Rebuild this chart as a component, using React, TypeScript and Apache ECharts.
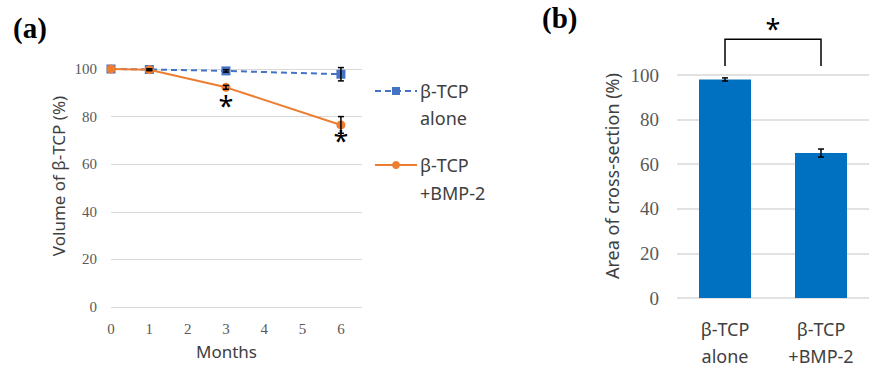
import React, { useEffect, useRef } from "react";
import * as echarts from "echarts";

const months = [0, 1, 3, 6];
const aloneVol = [100, 99.8, 99.2, 97.8];
const aloneErr = [0, 0.3, 0.5, 2.8];
const bmpVol = [100, 99.7, 92.3, 76.5];
const bmpErr = [0, 0.4, 0.8, 3.5];
const starPoints = [
  [3, 84.5],
  [6, 69.8],
];
const xTicks = [0, 1, 2, 3, 4, 5, 6];

const groups = ["β-TCP\nalone", "β-TCP\n+BMP-2"];
const areaVals = [98, 65];
const areaErr = [0.7, 1.8];
const bracket = [0, 1, 104, 116, 121];

const sans = "Noto Sans";
const serif = "Liberation Serif";
const grey = "#595959";
const dark = "#404040";
const blue = "#4472C4";
const orange = "#ED7D31";

function errRender(color: string, cap: number) {
  return (params: any, api: any) => {
    const x = api.value(0);
    const y = api.value(1);
    const e = api.value(2);
    if (!e) return null;
    const t = api.coord([x, y + e]);
    const b = api.coord([x, y - e]);
    const st = { stroke: color, lineWidth: 1.5 };
    return {
      type: "group",
      children: [
        { type: "line", shape: { x1: t[0], y1: t[1], x2: b[0], y2: b[1] }, style: st },
        { type: "line", shape: { x1: t[0] - cap, y1: t[1], x2: t[0] + cap, y2: t[1] }, style: st },
        { type: "line", shape: { x1: b[0] - cap, y1: b[1], x2: b[0] + cap, y2: b[1] }, style: st },
      ],
    };
  };
}

export default function App() {
  const ref = useRef<HTMLDivElement>(null);
  useEffect(() => {
    document.body.style.margin = "0";
    const chart = echarts.init(ref.current!, null, { renderer: "svg" });
    const option: any = {
      animation: false,
      grid: [
        { left: 111, top: 69, width: 251, height: 238 },
        { left: 677, top: 75, width: 203, height: 228 },
      ],
      xAxis: [
        {
          gridIndex: 0,
          type: "value",
          min: 0,
          max: 6.55,
          interval: 1,
          axisLine: { show: false },
          axisTick: { show: false },
          splitLine: { show: false },
          axisLabel: {
            margin: 14,
            fontFamily: serif,
            fontSize: 15,
            color: grey,
            formatter: (v: number) => (xTicks.includes(v) ? String(v) : ""),
          },
          name: "Months",
          nameLocation: "middle",
          nameGap: 36,
          nameTextStyle: { fontFamily: sans, fontSize: 17, color: dark, padding: [0, 20, 0, 0] },
        },
        {
          gridIndex: 1,
          type: "category",
          data: groups,
          axisLine: { show: false },
          axisTick: { show: false },
          axisLabel: { margin: 17, fontFamily: sans, fontSize: 18, lineHeight: 27, color: dark },
        },
      ],
      yAxis: [
        {
          gridIndex: 0,
          type: "value",
          min: 0,
          max: 100,
          interval: 20,
          axisLine: { show: false },
          axisTick: { show: false },
          splitLine: { lineStyle: { color: "#d9d9d9", width: 1 } },
          axisLabel: { margin: 14, fontFamily: serif, fontSize: 15, color: grey },
        },
        {
          gridIndex: 1,
          type: "value",
          min: 0,
          max: 100,
          interval: 20,
          axisLine: { show: false },
          axisTick: { show: false },
          splitLine: { lineStyle: { color: "#d9d9d9", width: 1.5 } },
          axisLabel: { margin: 18, fontFamily: serif, fontSize: 19, color: grey },
        },
      ],
      series: [
        {
          name: "β-TCP alone",
          type: "line",
          xAxisIndex: 0,
          yAxisIndex: 0,
          data: months.map((m, i) => [m, aloneVol[i]]),
          symbol: "rect",
          symbolSize: 9,
          lineStyle: { color: blue, width: 2, type: [6, 4] },
          itemStyle: { color: blue },
          z: 2,
        },
        {
          name: "β-TCP +BMP-2",
          type: "line",
          xAxisIndex: 0,
          yAxisIndex: 0,
          data: months.map((m, i) => [m, bmpVol[i]]),
          symbol: "circle",
          symbolSize: 9,
          lineStyle: { color: orange, width: 2 },
          itemStyle: { color: orange },
          z: 3,
        },
        {
          type: "custom",
          xAxisIndex: 0,
          yAxisIndex: 0,
          data: months.map((m, i) => [m, aloneVol[i], aloneErr[i]]),
          encode: { x: 0, y: 1 },
          renderItem: errRender("#000", 3),
          z: 4,
        },
        {
          type: "custom",
          xAxisIndex: 0,
          yAxisIndex: 0,
          data: months.map((m, i) => [m, bmpVol[i], bmpErr[i]]),
          encode: { x: 0, y: 1 },
          renderItem: errRender("#000", 3),
          z: 4,
        },
        {
          type: "custom",
          xAxisIndex: 0,
          yAxisIndex: 0,
          data: starPoints,
          encode: { x: 0, y: 1 },
          renderItem: (params: any, api: any) => {
            const p = api.coord([api.value(0), api.value(1)]);
            return {
              type: "text",
              x: p[0],
              y: p[1],
              style: { text: "*", fontFamily: sans, fontSize: 27, fill: "#000", align: "center", verticalAlign: "middle" },
            };
          },
          z: 5,
        },
        {
          type: "bar",
          xAxisIndex: 1,
          yAxisIndex: 1,
          data: areaVals,
          barWidth: 52,
          itemStyle: { color: "#0070C0" },
        },
        {
          type: "custom",
          xAxisIndex: 1,
          yAxisIndex: 1,
          data: groups.map((g, i) => [i, areaVals[i], areaErr[i]]),
          encode: { x: 0, y: 1 },
          renderItem: errRender("#000", 3),
          z: 4,
        },
        {
          type: "custom",
          xAxisIndex: 1,
          yAxisIndex: 1,
          data: [bracket],
          encode: { x: 0, y: 2 },
          renderItem: (params: any, api: any) => {
            const a = api.coord([api.value(0), api.value(2)]);
            const at = api.coord([api.value(0), api.value(3)]);
            const b = api.coord([api.value(1), api.value(2)]);
            const bt = api.coord([api.value(1), api.value(3)]);
            const s = api.coord([(api.value(0) + api.value(1)) / 2, api.value(4)]);
            return {
              type: "group",
              children: [
                {
                  type: "polyline",
                  shape: { points: [a, at, bt, b] },
                  style: { stroke: "#000", lineWidth: 1.5, fill: "none" },
                },
                {
                  type: "text",
                  x: (a[0] + b[0]) / 2,
                  y: s[1],
                  style: { text: "*", fontFamily: sans, fontSize: 27, fill: "#000", align: "center", verticalAlign: "middle" },
                },
              ],
            };
          },
          z: 5,
        },
      ],
      graphic: [
        { type: "text", left: 13, top: 13, style: { text: "(a)", fontFamily: serif, fontWeight: "bold", fontSize: 29, fill: "#000" } },
        { type: "text", left: 542, top: 3, style: { text: "(b)", fontFamily: serif, fontWeight: "bold", fontSize: 29, fill: "#000" } },
        {
          type: "text",
          x: 58,
          y: 176,
          rotation: Math.PI / 2,
          style: { text: "Volume of β-TCP (%)", fontFamily: sans, fontSize: 17, fill: dark, align: "center", verticalAlign: "middle" },
        },
        {
          type: "text",
          x: 612,
          y: 176,
          rotation: Math.PI / 2,
          style: { text: "Area of cross-section (%)", fontFamily: sans, fontSize: 18, fill: dark, align: "center", verticalAlign: "middle" },
        },
        { type: "line", shape: { x1: 375, y1: 91, x2: 417, y2: 91 }, style: { stroke: blue, lineWidth: 2, lineDash: [6, 4] } },
        { type: "rect", shape: { x: 392, y: 87, width: 8, height: 8 }, style: { fill: blue } },
        { type: "text", x: 420, y: 91, style: { text: "β-TCP", fontFamily: sans, fontSize: 18, fill: dark, verticalAlign: "middle" } },
        { type: "text", x: 420, y: 118, style: { text: "alone", fontFamily: sans, fontSize: 18, fill: dark, verticalAlign: "middle" } },
        { type: "line", shape: { x1: 375, y1: 165, x2: 417, y2: 165 }, style: { stroke: orange, lineWidth: 2 } },
        { type: "circle", shape: { cx: 396, cy: 165, r: 4 }, style: { fill: orange } },
        { type: "text", x: 420, y: 165, style: { text: "β-TCP", fontFamily: sans, fontSize: 18, fill: dark, verticalAlign: "middle" } },
        { type: "text", x: 420, y: 193, style: { text: "+BMP-2", fontFamily: sans, fontSize: 18, fill: dark, verticalAlign: "middle" } },
      ],
    };
    chart.setOption(option);
    return () => chart.dispose();
  }, []);
  return <div ref={ref} style={{ width: 869, height: 369 }} />;
}
